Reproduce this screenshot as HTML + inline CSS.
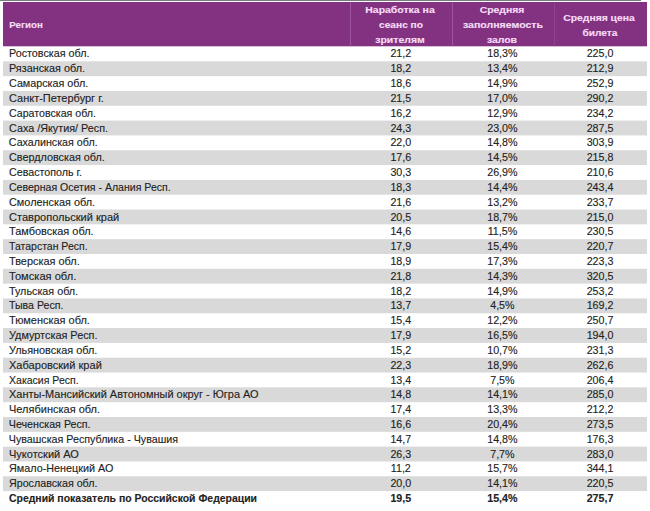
<!DOCTYPE html>
<html><head><meta charset="utf-8"><style>
html,body{margin:0;padding:0;background:#fff;width:650px;height:511px;overflow:hidden;position:relative}
body{font-family:"Liberation Sans",sans-serif;color:#222}
svg{position:absolute;left:0;top:0}
.t{position:absolute;white-space:nowrap;line-height:0;font-size:10.7px;-webkit-text-stroke:0.12px #222}
.h{position:absolute;white-space:nowrap;line-height:0;font-size:9.0px;font-weight:bold;color:#f6dcf6;-webkit-text-stroke:0.15px #f6dcf6}
</style></head><body>

<svg width="650" height="511" viewBox="0 0 650 511"><rect x="0" y="0" width="641" height="1" fill="#7a7c82"/><rect x="3" y="2" width="644" height="44.30" fill="#823280"/><rect x="350.0" y="2" width="1" height="44.30" fill="#9e55a0"/><rect x="452.0" y="2" width="1" height="44.30" fill="#9e55a0"/><rect x="554.0" y="2" width="1" height="44.30" fill="#8e4290"/><rect x="3" y="61.32" width="644" height="14.82" fill="#d9d9d9"/><rect x="3" y="90.96" width="644" height="14.82" fill="#d9d9d9"/><rect x="3" y="120.60" width="644" height="14.82" fill="#d9d9d9"/><rect x="3" y="150.24" width="644" height="14.82" fill="#d9d9d9"/><rect x="3" y="179.88" width="644" height="14.82" fill="#d9d9d9"/><rect x="3" y="209.52" width="644" height="14.82" fill="#d9d9d9"/><rect x="3" y="239.16" width="644" height="14.82" fill="#d9d9d9"/><rect x="3" y="268.80" width="644" height="14.82" fill="#d9d9d9"/><rect x="3" y="298.44" width="644" height="14.82" fill="#d9d9d9"/><rect x="3" y="328.08" width="644" height="14.82" fill="#d9d9d9"/><rect x="3" y="357.72" width="644" height="14.82" fill="#d9d9d9"/><rect x="3" y="387.36" width="644" height="14.82" fill="#d9d9d9"/><rect x="3" y="417.00" width="644" height="14.82" fill="#d9d9d9"/><rect x="3" y="446.64" width="644" height="14.82" fill="#d9d9d9"/><rect x="3" y="476.28" width="644" height="14.82" fill="#d9d9d9"/></svg>
<div class="h" style="left:25.60px;top:24.78px;transform:translateX(-50%) scaleX(1.0816)">Регион</div>
<div class="h" style="left:400.40px;top:10.28px;transform:translateX(-50%) scaleX(1.1636)">Наработка на</div>
<div class="h" style="left:400.50px;top:24.98px;transform:translateX(-50%) scaleX(1.1284)">сеанс по</div>
<div class="h" style="left:399.90px;top:39.68px;transform:translateX(-50%) scaleX(1.1639)">зрителям</div>
<div class="h" style="left:502.10px;top:10.28px;transform:translateX(-50%) scaleX(1.1553)">Средняя</div>
<div class="h" style="left:503.00px;top:24.98px;transform:translateX(-50%) scaleX(1.1732)">заполняемость</div>
<div class="h" style="left:502.10px;top:39.68px;transform:translateX(-50%) scaleX(1.1552)">залов</div>
<div class="h" style="left:599.00px;top:17.88px;transform:translateX(-50%) scaleX(1.1501)">Средняя цена</div>
<div class="h" style="left:600.00px;top:32.58px;transform:translateX(-50%) scaleX(1.1275)">билета</div>
<div class="t" style="left:8.80px;top:53.49px;transform-origin:0 0;transform:scaleX(1.0064)">Ростовская обл.</div>
<div class="t" style="left:400.80px;top:53.49px;transform:translateX(-50%)">21,2</div>
<div class="t" style="left:502.40px;top:53.49px;transform:translateX(-50%)">18,3%</div>
<div class="t" style="left:600.00px;top:53.49px;transform:translateX(-50%)">225,0</div>
<div class="t" style="left:8.80px;top:68.31px;transform-origin:0 0;transform:scaleX(1.0135)">Рязанская обл.</div>
<div class="t" style="left:400.80px;top:68.31px;transform:translateX(-50%)">18,2</div>
<div class="t" style="left:502.40px;top:68.31px;transform:translateX(-50%)">13,4%</div>
<div class="t" style="left:600.00px;top:68.31px;transform:translateX(-50%)">212,9</div>
<div class="t" style="left:8.80px;top:83.13px;transform-origin:0 0;transform:scaleX(1.0065)">Самарская обл.</div>
<div class="t" style="left:400.80px;top:83.13px;transform:translateX(-50%)">18,6</div>
<div class="t" style="left:502.40px;top:83.13px;transform:translateX(-50%)">14,9%</div>
<div class="t" style="left:600.00px;top:83.13px;transform:translateX(-50%)">252,9</div>
<div class="t" style="left:8.80px;top:97.95px;transform-origin:0 0;transform:scaleX(1.0273)">Санкт-Петербург г.</div>
<div class="t" style="left:400.80px;top:97.95px;transform:translateX(-50%)">21,5</div>
<div class="t" style="left:502.40px;top:97.95px;transform:translateX(-50%)">17,0%</div>
<div class="t" style="left:600.00px;top:97.95px;transform:translateX(-50%)">290,2</div>
<div class="t" style="left:8.80px;top:112.77px;transform-origin:0 0;transform:scaleX(0.9943)">Саратовская обл.</div>
<div class="t" style="left:400.80px;top:112.77px;transform:translateX(-50%)">16,2</div>
<div class="t" style="left:502.40px;top:112.77px;transform:translateX(-50%)">12,9%</div>
<div class="t" style="left:600.00px;top:112.77px;transform:translateX(-50%)">234,2</div>
<div class="t" style="left:8.80px;top:127.59px;transform-origin:0 0;transform:scaleX(1.0103)">Саха /Якутия/ Респ.</div>
<div class="t" style="left:400.80px;top:127.59px;transform:translateX(-50%)">24,3</div>
<div class="t" style="left:502.40px;top:127.59px;transform:translateX(-50%)">23,0%</div>
<div class="t" style="left:600.00px;top:127.59px;transform:translateX(-50%)">287,5</div>
<div class="t" style="left:8.80px;top:142.41px;transform-origin:0 0;transform:scaleX(1.0000)">Сахалинская обл.</div>
<div class="t" style="left:400.80px;top:142.41px;transform:translateX(-50%)">22,0</div>
<div class="t" style="left:502.40px;top:142.41px;transform:translateX(-50%)">14,8%</div>
<div class="t" style="left:600.00px;top:142.41px;transform:translateX(-50%)">303,9</div>
<div class="t" style="left:8.80px;top:157.23px;transform-origin:0 0;transform:scaleX(1.0106)">Свердловская обл.</div>
<div class="t" style="left:400.80px;top:157.23px;transform:translateX(-50%)">17,6</div>
<div class="t" style="left:502.40px;top:157.23px;transform:translateX(-50%)">14,5%</div>
<div class="t" style="left:600.00px;top:157.23px;transform:translateX(-50%)">215,8</div>
<div class="t" style="left:8.80px;top:172.05px;transform-origin:0 0;transform:scaleX(1.0002)">Севастополь г.</div>
<div class="t" style="left:400.80px;top:172.05px;transform:translateX(-50%)">30,3</div>
<div class="t" style="left:502.40px;top:172.05px;transform:translateX(-50%)">26,9%</div>
<div class="t" style="left:600.00px;top:172.05px;transform:translateX(-50%)">210,6</div>
<div class="t" style="left:8.80px;top:186.87px;transform-origin:0 0;transform:scaleX(0.9877)">Северная Осетия - Алания Респ.</div>
<div class="t" style="left:400.80px;top:186.87px;transform:translateX(-50%)">18,3</div>
<div class="t" style="left:502.40px;top:186.87px;transform:translateX(-50%)">14,4%</div>
<div class="t" style="left:600.00px;top:186.87px;transform:translateX(-50%)">243,4</div>
<div class="t" style="left:8.80px;top:201.69px;transform-origin:0 0;transform:scaleX(1.0179)">Смоленская обл.</div>
<div class="t" style="left:400.80px;top:201.69px;transform:translateX(-50%)">21,6</div>
<div class="t" style="left:502.40px;top:201.69px;transform:translateX(-50%)">13,2%</div>
<div class="t" style="left:600.00px;top:201.69px;transform:translateX(-50%)">233,7</div>
<div class="t" style="left:8.80px;top:216.51px;transform-origin:0 0;transform:scaleX(1.0330)">Ставропольский край</div>
<div class="t" style="left:400.80px;top:216.51px;transform:translateX(-50%)">20,5</div>
<div class="t" style="left:502.40px;top:216.51px;transform:translateX(-50%)">18,7%</div>
<div class="t" style="left:600.00px;top:216.51px;transform:translateX(-50%)">215,0</div>
<div class="t" style="left:8.80px;top:231.33px;transform-origin:0 0;transform:scaleX(1.0243)">Тамбовская обл.</div>
<div class="t" style="left:400.80px;top:231.33px;transform:translateX(-50%)">14,6</div>
<div class="t" style="left:502.40px;top:231.33px;transform:translateX(-50%)">11,5%</div>
<div class="t" style="left:600.00px;top:231.33px;transform:translateX(-50%)">230,5</div>
<div class="t" style="left:8.80px;top:246.15px;transform-origin:0 0;transform:scaleX(0.9812)">Татарстан Респ.</div>
<div class="t" style="left:400.80px;top:246.15px;transform:translateX(-50%)">17,9</div>
<div class="t" style="left:502.40px;top:246.15px;transform:translateX(-50%)">15,4%</div>
<div class="t" style="left:600.00px;top:246.15px;transform:translateX(-50%)">220,7</div>
<div class="t" style="left:8.80px;top:260.97px;transform-origin:0 0;transform:scaleX(1.0219)">Тверская обл.</div>
<div class="t" style="left:400.80px;top:260.97px;transform:translateX(-50%)">18,9</div>
<div class="t" style="left:502.40px;top:260.97px;transform:translateX(-50%)">17,3%</div>
<div class="t" style="left:600.00px;top:260.97px;transform:translateX(-50%)">223,3</div>
<div class="t" style="left:8.80px;top:275.79px;transform-origin:0 0;transform:scaleX(1.0392)">Томская обл.</div>
<div class="t" style="left:400.80px;top:275.79px;transform:translateX(-50%)">21,8</div>
<div class="t" style="left:502.40px;top:275.79px;transform:translateX(-50%)">14,3%</div>
<div class="t" style="left:600.00px;top:275.79px;transform:translateX(-50%)">320,5</div>
<div class="t" style="left:8.80px;top:290.61px;transform-origin:0 0;transform:scaleX(1.0075)">Тульская обл.</div>
<div class="t" style="left:400.80px;top:290.61px;transform:translateX(-50%)">18,2</div>
<div class="t" style="left:502.40px;top:290.61px;transform:translateX(-50%)">14,9%</div>
<div class="t" style="left:600.00px;top:290.61px;transform:translateX(-50%)">253,2</div>
<div class="t" style="left:8.80px;top:305.43px;transform-origin:0 0;transform:scaleX(0.9910)">Тыва Респ.</div>
<div class="t" style="left:400.80px;top:305.43px;transform:translateX(-50%)">13,7</div>
<div class="t" style="left:502.40px;top:305.43px;transform:translateX(-50%)">4,5%</div>
<div class="t" style="left:600.00px;top:305.43px;transform:translateX(-50%)">169,2</div>
<div class="t" style="left:8.80px;top:320.25px;transform-origin:0 0;transform:scaleX(1.0256)">Тюменская обл.</div>
<div class="t" style="left:400.80px;top:320.25px;transform:translateX(-50%)">15,4</div>
<div class="t" style="left:502.40px;top:320.25px;transform:translateX(-50%)">12,2%</div>
<div class="t" style="left:600.00px;top:320.25px;transform:translateX(-50%)">250,7</div>
<div class="t" style="left:8.80px;top:335.07px;transform-origin:0 0;transform:scaleX(1.0172)">Удмуртская Респ.</div>
<div class="t" style="left:400.80px;top:335.07px;transform:translateX(-50%)">17,9</div>
<div class="t" style="left:502.40px;top:335.07px;transform:translateX(-50%)">16,5%</div>
<div class="t" style="left:600.00px;top:335.07px;transform:translateX(-50%)">194,0</div>
<div class="t" style="left:8.80px;top:349.89px;transform-origin:0 0;transform:scaleX(1.0172)">Ульяновская обл.</div>
<div class="t" style="left:400.80px;top:349.89px;transform:translateX(-50%)">15,2</div>
<div class="t" style="left:502.40px;top:349.89px;transform:translateX(-50%)">10,7%</div>
<div class="t" style="left:600.00px;top:349.89px;transform:translateX(-50%)">231,3</div>
<div class="t" style="left:8.80px;top:364.71px;transform-origin:0 0;transform:scaleX(1.0337)">Хабаровский край</div>
<div class="t" style="left:400.80px;top:364.71px;transform:translateX(-50%)">22,3</div>
<div class="t" style="left:502.40px;top:364.71px;transform:translateX(-50%)">18,9%</div>
<div class="t" style="left:600.00px;top:364.71px;transform:translateX(-50%)">262,6</div>
<div class="t" style="left:8.80px;top:379.53px;transform-origin:0 0;transform:scaleX(0.9858)">Хакасия Респ.</div>
<div class="t" style="left:400.80px;top:379.53px;transform:translateX(-50%)">13,4</div>
<div class="t" style="left:502.40px;top:379.53px;transform:translateX(-50%)">7,5%</div>
<div class="t" style="left:600.00px;top:379.53px;transform:translateX(-50%)">206,4</div>
<div class="t" style="left:8.80px;top:394.35px;transform-origin:0 0;transform:scaleX(1.0268)">Ханты-Мансийский Автономный округ - Югра АО</div>
<div class="t" style="left:400.80px;top:394.35px;transform:translateX(-50%)">14,8</div>
<div class="t" style="left:502.40px;top:394.35px;transform:translateX(-50%)">14,1%</div>
<div class="t" style="left:600.00px;top:394.35px;transform:translateX(-50%)">285,0</div>
<div class="t" style="left:8.80px;top:409.17px;transform-origin:0 0;transform:scaleX(1.0290)">Челябинская обл.</div>
<div class="t" style="left:400.80px;top:409.17px;transform:translateX(-50%)">17,4</div>
<div class="t" style="left:502.40px;top:409.17px;transform:translateX(-50%)">13,3%</div>
<div class="t" style="left:600.00px;top:409.17px;transform:translateX(-50%)">212,2</div>
<div class="t" style="left:8.80px;top:423.99px;transform-origin:0 0;transform:scaleX(1.0000)">Чеченская Респ.</div>
<div class="t" style="left:400.80px;top:423.99px;transform:translateX(-50%)">16,6</div>
<div class="t" style="left:502.40px;top:423.99px;transform:translateX(-50%)">20,4%</div>
<div class="t" style="left:600.00px;top:423.99px;transform:translateX(-50%)">273,5</div>
<div class="t" style="left:8.80px;top:438.81px;transform-origin:0 0;transform:scaleX(1.0000)">Чувашская Республика - Чувашия</div>
<div class="t" style="left:400.80px;top:438.81px;transform:translateX(-50%)">14,7</div>
<div class="t" style="left:502.40px;top:438.81px;transform:translateX(-50%)">14,8%</div>
<div class="t" style="left:600.00px;top:438.81px;transform:translateX(-50%)">176,3</div>
<div class="t" style="left:8.80px;top:453.63px;transform-origin:0 0;transform:scaleX(1.0298)">Чукотский АО</div>
<div class="t" style="left:400.80px;top:453.63px;transform:translateX(-50%)">26,3</div>
<div class="t" style="left:502.40px;top:453.63px;transform:translateX(-50%)">7,7%</div>
<div class="t" style="left:600.00px;top:453.63px;transform:translateX(-50%)">283,0</div>
<div class="t" style="left:8.80px;top:468.45px;transform-origin:0 0;transform:scaleX(1.0097)">Ямало-Ненецкий АО</div>
<div class="t" style="left:400.80px;top:468.45px;transform:translateX(-50%)">11,2</div>
<div class="t" style="left:502.40px;top:468.45px;transform:translateX(-50%)">15,7%</div>
<div class="t" style="left:600.00px;top:468.45px;transform:translateX(-50%)">344,1</div>
<div class="t" style="left:8.80px;top:483.27px;transform-origin:0 0;transform:scaleX(1.0001)">Ярославская обл.</div>
<div class="t" style="left:400.80px;top:483.27px;transform:translateX(-50%)">20,0</div>
<div class="t" style="left:502.40px;top:483.27px;transform:translateX(-50%)">14,1%</div>
<div class="t" style="left:600.00px;top:483.27px;transform:translateX(-50%)">220,5</div>
<div class="t" style="left:8.80px;top:498.09px;font-weight:bold;transform-origin:0 0;transform:scaleX(0.9763)">Средний показатель по Российской Федерации</div>
<div class="t" style="left:400.80px;top:498.09px;font-weight:bold;transform:translateX(-50%)">19,5</div>
<div class="t" style="left:502.40px;top:498.09px;font-weight:bold;transform:translateX(-50%)">15,4%</div>
<div class="t" style="left:600.00px;top:498.09px;font-weight:bold;transform:translateX(-50%)">275,7</div>
</body></html>
